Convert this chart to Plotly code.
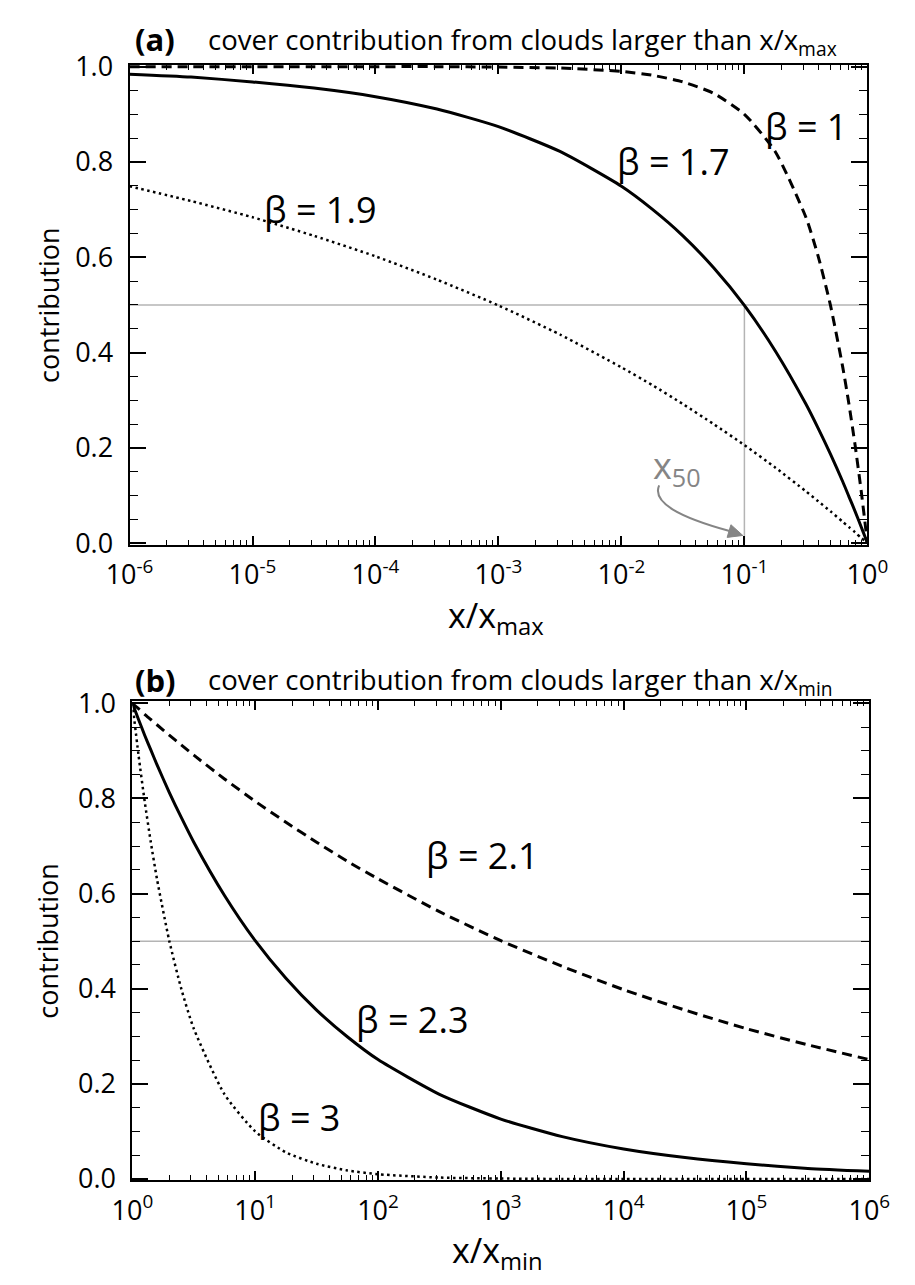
import plotly.graph_objects as go

# ---- panel (a): contribution from clouds larger than x/x_max ----
xa_log = [-6, -5.5, -5, -4.5, -4, -3.5, -3, -2.5, -2, -1.75, -1.5, -1.25, -1,
          -0.75, -0.5, -0.4, -0.3, -0.2, -0.15, -0.1, -0.05, -0.02, 0]
ya_beta10 = [1.000, 1.000, 1.000, 1.000, 1.000, 1.000, 0.999, 0.997, 0.990, 0.982,
             0.968, 0.944, 0.900, 0.822, 0.684, 0.602, 0.499, 0.369, 0.292, 0.206,
             0.109, 0.045, 0.0]
ya_beta17 = [0.984, 0.978, 0.968, 0.955, 0.937, 0.911, 0.874, 0.822, 0.749, 0.701,
             0.645, 0.578, 0.499, 0.404, 0.292, 0.241, 0.187, 0.129, 0.098, 0.067,
             0.034, 0.014, 0.0]
ya_beta19 = [0.749, 0.718, 0.684, 0.645, 0.602, 0.553, 0.499, 0.438, 0.369, 0.332,
             0.292, 0.250, 0.206, 0.159, 0.109, 0.088, 0.067, 0.045, 0.034, 0.023,
             0.011, 0.005, 0.0]

# ---- panel (b): contribution from clouds larger than x/x_min ----
xb_log = [0, 0.05, 0.1, 0.15, 0.2, 0.3, 0.4, 0.5, 0.75, 1, 1.25, 1.5, 1.75, 2,
          2.5, 3, 3.5, 4, 4.5, 5, 5.5, 6]
yb_beta21 = [1.000, 0.989, 0.977, 0.966, 0.955, 0.933, 0.912, 0.891, 0.841, 0.794,
             0.750, 0.708, 0.668, 0.631, 0.562, 0.501, 0.447, 0.398, 0.355, 0.316,
             0.282, 0.251]
yb_beta23 = [1.000, 0.966, 0.933, 0.902, 0.871, 0.813, 0.759, 0.708, 0.596, 0.501,
             0.422, 0.355, 0.299, 0.251, 0.178, 0.126, 0.089, 0.063, 0.045, 0.032,
             0.022, 0.016]
yb_beta30 = [1.000, 0.891, 0.794, 0.708, 0.631, 0.501, 0.398, 0.316, 0.178, 0.100,
             0.056, 0.032, 0.018, 0.010, 0.003, 0.001, 0.0, 0.0, 0.0, 0.0, 0.0, 0.0]

half_level = 0.5
x50_a = 0.1
xa_range = [1e-6, 1.0]
xb_range = [1.0, 1e6]

# decade tick labels
xa_decades = [-6, -5, -4, -3, -2, -1, 0]
xb_decades = [0, 1, 2, 3, 4, 5, 6]

W, H = 915, 1285
FONT = "Open Sans"
GRAY_LINE = "#b4b4b4"
GRAY_TXT = "#858585"


def px(x):
    return x / W


def py(y):
    return 1 - y / H


xa = [10 ** e for e in xa_log]
xb = [10 ** e for e in xb_log]

fig = go.Figure()

# reference lines at the half-contribution level
fig.add_trace(go.Scatter(x=xa_range, y=[half_level, half_level], mode="lines",
                         line=dict(color=GRAY_LINE, width=1.5), xaxis="x", yaxis="y"))
fig.add_trace(go.Scatter(x=[x50_a, x50_a], y=[0, half_level], mode="lines",
                         line=dict(color=GRAY_LINE, width=1.5), xaxis="x", yaxis="y"))
fig.add_trace(go.Scatter(x=xb_range, y=[half_level, half_level], mode="lines",
                         line=dict(color=GRAY_LINE, width=1.5), xaxis="x2", yaxis="y2"))

solid = dict(color="black", width=3, shape="spline", smoothing=0.6)
dashed = dict(color="black", width=3, dash="10px,6px", shape="spline", smoothing=0.6)
dotted = dict(color="black", width=2.5, dash="2.5px,3.5px", shape="spline", smoothing=0.6)

fig.add_trace(go.Scatter(x=xa, y=ya_beta10, mode="lines", line=dashed, xaxis="x", yaxis="y"))
fig.add_trace(go.Scatter(x=xa, y=ya_beta17, mode="lines", line=solid, xaxis="x", yaxis="y"))
fig.add_trace(go.Scatter(x=xa, y=ya_beta19, mode="lines", line=dotted, xaxis="x", yaxis="y"))

fig.add_trace(go.Scatter(x=xb, y=yb_beta21, mode="lines", line=dashed, xaxis="x2", yaxis="y2"))
fig.add_trace(go.Scatter(x=xb, y=yb_beta23, mode="lines", line=solid, xaxis="x2", yaxis="y2"))
fig.add_trace(go.Scatter(x=xb, y=yb_beta30, mode="lines", line=dotted, xaxis="x2", yaxis="y2"))

tick_font = dict(family=FONT, size=27, color="black")


def minor_positions(decades):
    out = []
    for d in decades[:-1]:
        out += [m * 10 ** d for m in range(2, 10)]
    return out


def decade_label(d):
    return "10<sup>%d</sup>" % d


def xaxis_style(decades, dom, anchor):
    return dict(type="log", range=[decades[0], decades[-1]], domain=dom, anchor=anchor,
                tickmode="array",
                tickvals=[10 ** d for d in decades],
                ticktext=[decade_label(d) for d in decades],
                showline=True, linecolor="black", linewidth=2, mirror="ticks",
                ticks="inside", ticklen=9, tickwidth=1.5, tickcolor="black",
                minor=dict(ticks="inside", ticklen=5, tickwidth=1.2, tickcolor="black",
                           tickmode="array", tickvals=minor_positions(decades),
                           showgrid=False),
                showgrid=False, zeroline=False, tickfont=tick_font,
                ticklabelstandoff=5)


def yaxis_style(dom, anchor):
    return dict(range=[-0.003, 1.004], domain=dom, anchor=anchor,
                dtick=0.2, tick0=0, tickformat=".1f",
                showline=True, linecolor="black", linewidth=2, mirror="ticks",
                ticks="inside", ticklen=16, tickwidth=1.5, tickcolor="black",
                minor=dict(ticks="inside", ticklen=8, tickwidth=1.2,
                           tickcolor="black", dtick=0.05, showgrid=False),
                showgrid=False, zeroline=False, tickfont=tick_font,
                ticklabelstandoff=9)


fig.update_layout(
    width=W, height=H,
    margin=dict(l=0, r=0, t=0, b=0),
    paper_bgcolor="white", plot_bgcolor="white",
    showlegend=False,
    font=dict(family=FONT, color="black"),
    xaxis=xaxis_style(xa_decades, [px(111), px(887)], "y"),
    yaxis=yaxis_style([py(541), py(48)], "x"),
    xaxis2=xaxis_style(xb_decades, [px(114), px(889)], "y2"),
    yaxis2=yaxis_style([py(1194), py(702)], "x2"),
)

ann = []


def paper_text(text, x, y, size, xanchor="left", yanchor="middle", color="black", angle=0):
    ann.append(dict(text=text, x=px(x), y=py(y), xref="paper", yref="paper",
                    xanchor=xanchor, yanchor=yanchor, showarrow=False, textangle=angle,
                    font=dict(family=FONT, size=size, color=color)))


def data_text(text, x, y, xr, yr, size=36, color="black"):
    ann.append(dict(text=text, x=x, y=y, xref=xr, yref=yr, xanchor="center",
                    yanchor="middle", showarrow=False,
                    font=dict(family=FONT, size=size, color=color)))


# panel titles
paper_text("<b>(a)</b>", 115, 22, 31)
paper_text("cover contribution from clouds larger than x/x<sub>max</sub>", 191, 24, 27.5)
paper_text("<b>(b)</b>", 115, 680, 31)
paper_text("cover contribution from clouds larger than x/x<sub>min</sub>", 191, 682, 27.5)

# axis titles
paper_text("contribution", 25, 295, 27, xanchor="center", angle=-90)
paper_text("contribution", 25, 948, 27, xanchor="center", angle=-90)
paper_text("x/x<sub>max</sub>", 496, 588, 34, xanchor="center", yanchor="top")
paper_text("x/x<sub>min</sub>", 498, 1240, 34, xanchor="center", yanchor="top")

# curve labels
data_text("β = 1.7", -1.58, 0.80, "x", "y")
data_text("β = 1", -0.5, 0.875, "x", "y")
data_text("β = 1.9", -4.45, 0.70, "x", "y")
data_text("β = 2.1", 2.85, 0.68, "x2", "y2")
data_text("β = 2.3", 2.28, 0.335, "x2", "y2")
data_text("β = 3", 1.36, 0.13, "x2", "y2")

# x50 marker text
paper_text("x<sub>50</sub>", 659, 462, 36, color=GRAY_TXT)

fig.update_layout(annotations=ann)

# curved pointer from the x50 text down to the x50 position on the axis
sx, sy = 668, 480
c1x, c1y = 660, 498
c2x, c2y = 690, 513
ex, ey = 742, 527
curve = "M {:.5f},{:.5f} C {:.5f},{:.5f} {:.5f},{:.5f} {:.5f},{:.5f}".format(
    px(sx), py(sy), px(c1x), py(c1y), px(c2x), py(c2y), px(ex), py(ey))
head = "M {:.5f},{:.5f} L {:.5f},{:.5f} L {:.5f},{:.5f} Z".format(
    px(756), py(531.5), px(739.5), py(533.5), px(743.5), py(520.5))
fig.update_layout(shapes=[
    dict(type="path", path=curve, xref="paper", yref="paper",
         line=dict(color=GRAY_TXT, width=2)),
    dict(type="path", path=head, xref="paper", yref="paper",
         line=dict(color=GRAY_TXT, width=1), fillcolor=GRAY_TXT),
])

fig.write_html("out.html")
